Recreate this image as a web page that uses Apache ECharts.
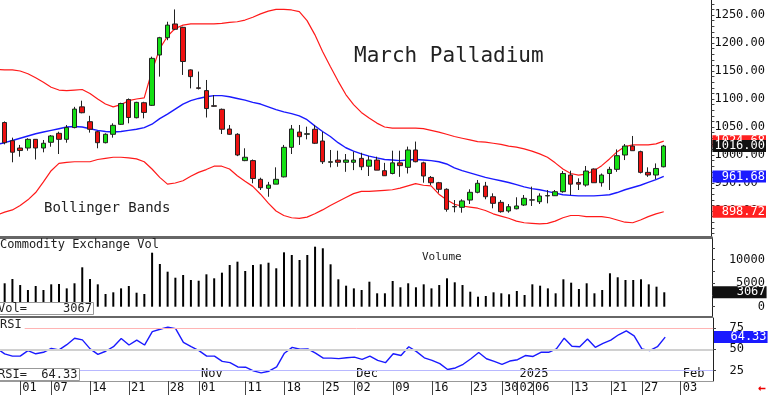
<!DOCTYPE html>
<html><head><meta charset="utf-8">
<script src="https://cdn.jsdelivr.net/npm/echarts@6/dist/echarts.min.js"></script>
<style>html,body{margin:0;padding:0;background:#fff}#c{width:768px;height:396px}</style>
</head><body><div id="c"></div>
<script>
// ---- data (bar index 0 = 27 Sep 2024, index 85 = 30 Jan 2025) ----
const opens  = [1058,1025.6,1012.5,1012.5,1028,1012.5,1022.7,1038.7,1028,1049,
  1086,1059.5,1041.6,1022,1037,1054.8,1099,1066.6,1093.4,1088.7,
  1178.6,1209.5,1234,1228,1152,1120,1115,1088,1081.6,1046.4,
  1037,990,990,956.6,940.5,948,961,1013.7,1041,1037,
  1046,1025,987,991,987,987,994,980,991,972,
  967,986,978,1009,986,960,950.5,938.8,908,906.6,
  919.6,933.4,944.6,925.5,915.5,900,904,910.7,920,916.6,
  927,927.3,934.5,964.3,951,946.4,975,950.5,967,974.4,
  1000,1016,1006,969,964.3,979];
const closes = [1022,1005,1008,1028,1012.5,1021,1034,1028,1049,1082,
  1075.5,1046,1022,1037,1053,1092,1067,1094,1076,1172.6,
  1209.5,1232,1224.5,1167,1140,1119,1083,1087,1046,1037,
  1000,996,958,941.6,946.4,956.6,1013.7,1046.4,1032.7,1038,
  1021,988,988,987,991,991,979,991,973,963,
  986,981,1009,988,962.5,950.5,938.8,903,907.5,918,
  933.4,949.5,925.5,913.7,898.8,907.7,909,922.7,919.5,926.8,
  927.5,934.5,967,948,948,971.4,950.5,964.3,974.4,998.8,
  1016,1007.7,969,964.3,976,1016];
const lows   = [1019,987,997,1007.7,992,1004.8,1014.8,1001.8,1022,1047.6,
  1074.5,1040,1012,1020.8,1031,1053.6,1056.6,1065.5,1065.5,1087.5,
  1140,1205,1223,1143,1119,1117,1067,1086,1037.5,1036,
  998,989,949.5,937.5,925.5,948,960,1001.8,1018,1028,
  1019.6,984,978,979,970,973,973,962.5,973,962.5,
  965.5,961,967,987,950.5,946.4,932.7,898.8,897.7,897,
  912.5,931.6,921,904.8,897,897,903,909,909,912.5,
  913.7,926.8,932.7,928.6,937.5,943.5,950.5,943.5,937.5,970,
  991,1007.7,967,961,956.6,978];
const highs  = [1060,1031,1018,1030,1028,1026.8,1035.7,1041.6,1053.6,1086,
  1097,1070,1043,1038.7,1056.6,1093.4,1101,1095,1095,1175.6,
  1211,1238,1260,1229,1153,1149,1134,1107,1083,1053.6,
  1039,1012,992,959.5,952,978,1018,1053.6,1053.6,1050.6,
  1053.6,1041.6,1009,1007.7,1001.8,1006,1004,998,997,986,
  1007.7,1007.7,1015,1024,988,962.5,952,940.5,919.6,921,
  938.8,955.4,952,931.6,919.6,912.5,924.5,928.6,943.5,931.6,
  937.5,937.5,971.4,972,958.4,980.4,976,967,979,1010,
  1019.6,1034,1007.7,978,985,1018];
const volumes = [4980,5890,4610,3550,4400,3550,4760,4830,3900,4980,
  8380,5890,4760,2700,3060,3900,4400,2980,2700,11490,
  9090,7450,6170,6740,5680,5530,6890,6040,7240,8870,
  9580,7600,8870,9020,9360,8170,11570,11000,9940,11000,
  12770,12430,9020,5830,4470,3900,3550,5320,2850,2850,
  5470,4130,4980,4130,4760,3900,4610,6040,5190,4610,
  3190,2130,2280,3060,2850,2640,3340,2490,4760,4470,
  3900,2850,5830,5110,3770,4980,2850,3550,7110,6260,
  5680,5680,5830,4760,4260,3067];
// indicator lines start one bar earlier (index -1)
const lineStart = -1;
const upperBand = [1153,
  1152,1152,1150,1145,1138,1130,1121,1116,1115,1116,
  1117,1110,1100,1091,1086,1090,1097,1100,1102,1150,
  1190,1212,1226,1232,1234,1234,1234,1234,1235,1237,
  1238,1241,1246,1252,1257,1260,1260,1259,1256,1240,
  1215,1185,1158,1132,1108,1090,1076,1066,1057,1050,
  1048,1048,1048,1048,1047,1044,1041,1037,1033,1030,
  1027,1024,1023,1021,1019,1016,1014,1011,1007,1002,
  996,986,975,967,964,966,972,981,993,1006,
  1015,1018,1018,1018,1020,1024.68];
const middleBand = [1019,
  1022,1026,1030,1034,1038,1041,1044,1047,1050,1051,
  1050,1047,1044,1042,1041,1042,1044,1046,1049,1055,
  1065,1073,1082,1091,1097,1101,1104,1106,1106,1104,
  1101,1098,1094,1091,1086,1081,1077,1074,1070,1063,
  1052,1042,1033,1022,1013,1007,1002,998,995,992,
  991,990,991,992,991,990,988,984,977,972,
  968,964,960,957,954,951,947,943,940,938,
  935,932,929,928,927,927,927,928,929,933,
  938,942,946,951,956,961.68];
const lowerBand = [893,
  898,902,910,920,933,952,972,985,987,988,
  988,988,992,994,996,996,995,993,988,975,
  960,948,950,954,962,969,974,980,980,975,
  963,953,944,930,914,900,892,888,887,889,
  895,902,910,917,924,931,935,935,936,937,
  938,941,945,949,946,945,930,920,912,909,
  907,905,901,895,891,887,882,879,878,877,
  878,882,888,892,892,890,890,890,888,884,
  880,879,884,890,895,898.72];
const rsiValues = [51,
  44.7,42,42,48.5,44.7,46.5,51,49.3,55.4,63,
  61,50.5,44,47.7,53,62.7,55,60.8,55,70.7,
  73.5,76,74.2,58,53,48.5,42,42,35.8,34.3,
  29.3,29,24.7,22.4,24.3,29.3,45.4,52.3,50,50.5,
  45.4,39.6,39.6,39,40,40.8,38.1,42,37,34.3,
  44.7,42.7,53,47.3,40,37,33.2,26.3,28.1,32.4,
  38.9,46.2,38.9,35.8,32.4,36.2,37.8,42.7,41.6,46.5,
  46.5,50.5,63,53.5,53,62,52.3,57,60.8,67,
  71.5,65.8,50.5,48.5,53,64.33];
const dayTickIdx    = [2,6,11,16,21,25,31,36,41,45,50,55,60,64,66,68,73,78,82,87];
const dayTickLabels = ['01','07','14','21','28','01','11','18','25','02','09','16','23','30','02','06','13','21','27','03'];
const monthIdx    = [25,45,66,87];
const monthLabels = ['Nov','Dec','2025','Feb'];
const priceLabels = [900,950,1000,1050,1100,1150,1200,1250];
const volLabels   = [0,5000,10000];
const rsiLevels   = [75,50,25];
const rsiLevelColors = ['#ffb4b4','#d0d0d0','#b8b8ff'];

// ---- chart ----
const MONO = "'DejaVu Sans Mono', monospace";
const X_MIN = -0.6, X_MAX = 91.15;
const pad7 = s => (' '.repeat(7) + s).slice(-7);
const withX = (arr, start) => arr.map((v, k) => [k + start, v]);
const priceTicks = []; for (let v = 860; v <= 1270; v += 10) priceTicks.push(v);

function tag(value, bg, text) {
  return {
    yAxis: value,
    lineStyle: {width: 1, color: 'rgba(0,0,0,0)'},
    label: {show: true, position: 'end', distance: 1, formatter: text,
      color: '#fff', backgroundColor: bg, fontFamily: MONO, fontSize: 12,
      lineHeight: 12, padding: [0, 1, 0, 2]}
  };
}
function mk(data) {
  return {silent: true, symbol: ['none', 'none'], animation: false, data: data};
}

const lastClose = closes[closes.length - 1];
const lastVol = volumes[volumes.length - 1];
const lastRsi = rsiValues[rsiValues.length - 1];
const lastUp = upperBand[upperBand.length - 1];
const lastMid = middleBand[middleBand.length - 1];
const lastLow = lowerBand[lowerBand.length - 1];

const hiddenX = (gi, lineW, col) => ({
  type: 'value', gridIndex: gi, min: X_MIN, max: X_MAX, position: 'bottom',
  axisLine: {show: true, onZero: false, lineStyle: {color: col, width: lineW}},
  axisTick: {show: false}, axisLabel: {show: false}, splitLine: {show: false}
});

const option = {
  animation: false,
  backgroundColor: '#fff',
  grid: [
    {left: 0, right: 55, top: 0, height: 237},
    {left: 0, right: 55, top: 238, height: 79},
    {left: 0, right: 55, top: 318, height: 63}
  ],
  xAxis: [
    hiddenX(0, 3, '#666'),
    hiddenX(1, 2, '#666'),
    {
      type: 'value', gridIndex: 2, min: X_MIN, max: X_MAX, position: 'bottom',
      axisLine: {show: true, onZero: false, lineStyle: {color: '#999', width: 1}},
      axisTick: {show: true, customValues: dayTickIdx, length: 14, lineStyle: {color: '#444'}},
      axisLabel: {show: true, customValues: dayTickIdx, align: 'left', margin: 1,
        padding: [0, 0, 0, 2], fontFamily: MONO, fontSize: 12, color: '#111',
        formatter: v => dayTickLabels[dayTickIdx.indexOf(Math.round(v))] || ''},
      splitLine: {show: false}
    },
    {
      type: 'value', gridIndex: 2, min: X_MIN, max: X_MAX, position: 'bottom',
      axisLine: {show: false, onZero: false}, axisTick: {show: false},
      axisLabel: {show: true, inside: true, customValues: monthIdx, align: 'left', margin: 1,
        padding: [0, 0, 0, 2], fontFamily: MONO, fontSize: 12, color: '#111',
        formatter: v => monthLabels[monthIdx.indexOf(Math.round(v))] || ''},
      splitLine: {show: false}
    }
  ],
  yAxis: [
    {
      type: 'value', gridIndex: 0, position: 'right', min: 853.6, max: 1276.8,
      axisLine: {show: true, onZero: false, lineStyle: {color: '#222'}},
      axisTick: {show: true, customValues: priceTicks, length: 3, lineStyle: {color: '#444'}},
      axisLabel: {customValues: priceLabels, formatter: v => v.toFixed(2), margin: 3,
        fontFamily: MONO, fontSize: 12, color: '#111'},
      splitLine: {show: false}
    },
    {
      type: 'value', gridIndex: 1, position: 'right', min: -2191, max: 14617,
      axisLine: {show: true, onZero: false, lineStyle: {color: '#222'}},
      axisTick: {show: true, customValues: [0, 2500, 5000, 7500, 10000, 12500], length: 3, lineStyle: {color: '#444'}},
      axisLabel: {customValues: volLabels, align: 'right', margin: 53,
        formatter: v => String(Math.round(v)),
        fontFamily: MONO, fontSize: 12, color: '#111'},
      splitLine: {show: false}
    },
    {
      type: 'value', gridIndex: 2, position: 'right', min: 12.8, max: 86.7,
      axisLine: {show: true, onZero: false, lineStyle: {color: '#222'}},
      axisTick: {show: true, customValues: [25, 50, 75], length: 3, lineStyle: {color: '#444'}},
      axisLabel: {customValues: [25, 50, 75], align: 'right', margin: 31,
        formatter: v => String(Math.round(v)),
        fontFamily: MONO, fontSize: 12, color: '#111'},
      splitLine: {show: false}
    }
  ],
  title: [
    {text: 'March Palladium', left: 354, top: 45, padding: 0,
      textStyle: {fontFamily: MONO, fontSize: 21, fontWeight: 'normal', color: '#222', lineHeight: 24}},
    {text: 'Bollinger Bands', left: 44, top: 200, padding: 0,
      textStyle: {fontFamily: MONO, fontSize: 14, fontWeight: 'normal', color: '#222', lineHeight: 16}},
    {text: 'Commodity Exchange Vol', left: 0, top: 238, padding: 0,
      textStyle: {fontFamily: MONO, fontSize: 12, fontWeight: 'normal', color: '#222', lineHeight: 13}},
    {text: 'Volume', left: 422, top: 251, padding: 0,
      textStyle: {fontFamily: MONO, fontSize: 11, fontWeight: 'normal', color: '#222', lineHeight: 12}},
    {text: 'Vol=     ' + lastVol, left: -3, top: 302, padding: [0, 2, 0, 1],
      borderColor: '#999', borderWidth: 1, backgroundColor: '#fff',
      textStyle: {fontFamily: MONO, fontSize: 12, fontWeight: 'normal', color: '#222', lineHeight: 13}},
    {text: 'RSI', left: 0, top: 319, padding: [0, 3, 0, 0], backgroundColor: '#fff',
      textStyle: {fontFamily: MONO, fontSize: 12, fontWeight: 'normal', color: '#222', lineHeight: 12}},
    {text: 'RSI=  ' + lastRsi.toFixed(2), left: -3, top: 368, padding: [0, 2, 0, 1],
      borderColor: '#999', borderWidth: 1, backgroundColor: '#fff',
      textStyle: {fontFamily: MONO, fontSize: 12, fontWeight: 'normal', color: '#222', lineHeight: 13}},
    {text: '\u2190', right: 2, top: 382, padding: 0,
      textStyle: {fontFamily: MONO, fontSize: 13, fontWeight: 'bold', color: '#e00', lineHeight: 14}}
  ],
  series: [
    {type: 'line', name: 'upper', xAxisIndex: 0, yAxisIndex: 0, z: 2,
      data: withX(upperBand, lineStart), showSymbol: false, symbol: 'none',
      lineStyle: {color: '#ff1a1a', width: 1.2},
      markLine: mk([tag(lastUp, '#ff2020', pad7(lastUp.toFixed(2)))])},
    {type: 'line', name: 'lower', xAxisIndex: 0, yAxisIndex: 0, z: 2,
      data: withX(lowerBand, lineStart), showSymbol: false, symbol: 'none',
      lineStyle: {color: '#ff1a1a', width: 1.2},
      markLine: mk([tag(lastLow, '#ff2020', pad7(lastLow.toFixed(2)))])},
    {type: 'line', name: 'middle', xAxisIndex: 0, yAxisIndex: 0, z: 3,
      data: withX(middleBand, lineStart), showSymbol: false, symbol: 'none',
      lineStyle: {color: '#1a1aff', width: 1.4},
      markLine: mk([tag(lastMid, '#1a1aff', pad7(lastMid.toFixed(2)))])},
    {type: 'candlestick', name: 'price', xAxisIndex: 0, yAxisIndex: 0, z: 5,
      barWidth: 5,
      data: opens.map((o, i) => [i, o, closes[i], lows[i], highs[i]]),
      itemStyle: {color: '#14e014', color0: '#ee1111', borderColor: '#222', borderColor0: '#222', borderWidth: 1},
      markLine: mk([tag(lastClose, '#111', pad7(lastClose.toFixed(2)))])},
    {type: 'bar', name: 'volume', xAxisIndex: 1, yAxisIndex: 1, barWidth: 2,
      data: volumes.map((v, i) => [i, v]), itemStyle: {color: '#000'},
      markLine: mk([tag(lastVol, '#111', pad7(String(lastVol)))])},
    {type: 'line', name: 'rsi', xAxisIndex: 2, yAxisIndex: 2, z: 3,
      data: withX(rsiValues, lineStart), showSymbol: false, symbol: 'none',
      lineStyle: {color: '#1a1aff', width: 1.4},
      markLine: mk(
        rsiLevels.map((lv, k) => ({yAxis: lv, label: {show: false},
          lineStyle: {color: rsiLevelColors[k], width: k === 1 ? 2 : 1, type: 'solid'}}))
        .concat([tag(lastRsi, '#1a1aff', pad7(lastRsi.toFixed(2)))]))}
  ]
};
const chart = echarts.init(document.getElementById('c'), null, {renderer: 'canvas'});
chart.setOption(option);
</script>
</body></html>
